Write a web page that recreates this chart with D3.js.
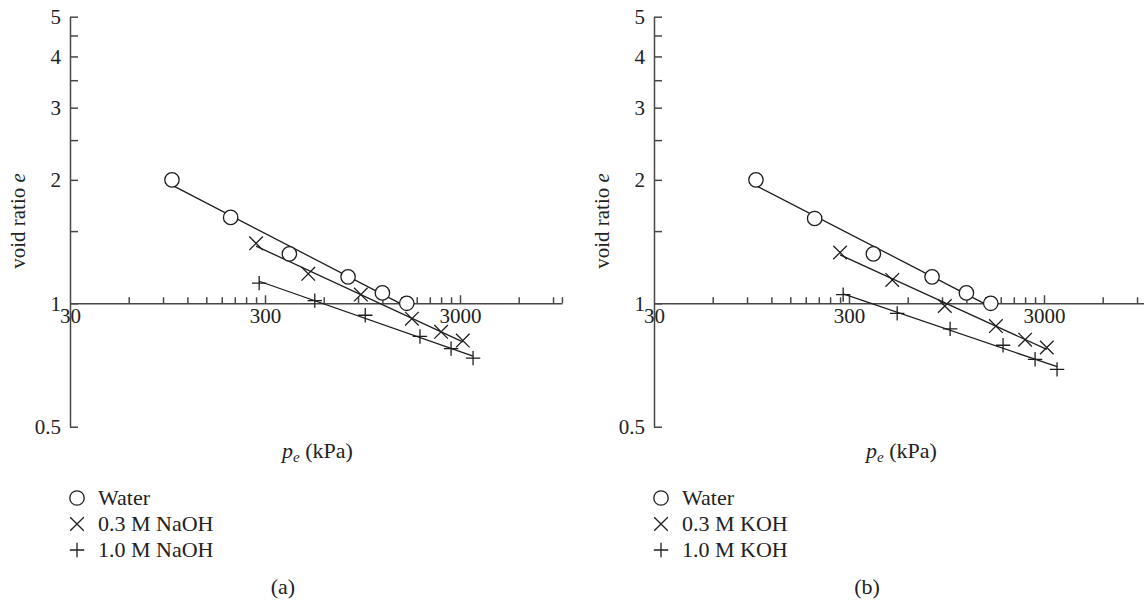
<!DOCTYPE html>
<html>
<head>
<meta charset="utf-8">
<script src="https://cdn.jsdelivr.net/npm/d3@7"></script>
<style>
  body { margin: 0; background: #fff; }
  svg text { font-family: "Liberation Serif", "DejaVu Serif", serif; fill: #222; }
</style>
</head>
<body>
<div id="chart"></div>
<script>
// values (pressure kPa, void ratio)
const waterP = [100, 200, 400, 800, 1200, 1600];
const waterE_a = [2.0, 1.62, 1.32, 1.16, 1.06, 1.0];
const waterE_b = [2.0, 1.61, 1.32, 1.16, 1.06, 1.0];

const naoh03P = [270, 500, 930, 1700, 2400, 3100];
const naoh03E = [1.40, 1.18, 1.05, 0.917, 0.852, 0.811];
const naoh10P = [280, 540, 980, 1870, 2700, 3500];
const naoh10E = [1.12, 1.015, 0.935, 0.83, 0.775, 0.735];

const koh03P = [270, 500, 930, 1700, 2400, 3100];
const koh03E = [1.33, 1.14, 0.985, 0.88, 0.815, 0.78];
const koh10P = [280, 530, 990, 1850, 2700, 3500];
const koh10E = [1.05, 0.945, 0.866, 0.79, 0.73, 0.69];

const legendA = ["Water", "0.3 M NaOH", "1.0 M NaOH"];
const legendB = ["Water", "0.3 M KOH", "1.0 M KOH"];
const panelLabels = ["(a)", "(b)"];

const xDomain = [30, 10000];
const xMajorTicks = [30, 300, 3000];
const xMinorTicks = [60, 90, 120, 150, 180, 210, 240, 270,
                     600, 900, 1200, 1500, 1800, 2100, 2400, 2700,
                     6000, 9000, 10000];
const yDomain = [0.5, 5];
const yTicks = [0.5, 1, 1.5, 2, 2.5, 3, 3.5, 4, 4.5, 5];
const yTickLabels = [0.5, 1, 2, 3, 4, 5];

const W = 1144, H = 603;
const ink = "#1e1e1e", axisInk = "#474747";

const svg = d3.select("#chart").append("svg").attr("width", W).attr("height", H);

const x = d3.scaleLog().domain(xDomain).range([0, 195 * Math.log10(xDomain[1] / xDomain[0])]);
const y = d3.scaleLog().domain(yDomain).range([426.7, 16.7]);

function pairs(p, e) { return p.map((v, i) => ({ p: v, e: e[i] })); }

// least squares in log-log space
function fit(pts) {
  const lx = pts.map(d => Math.log10(d.p)), ly = pts.map(d => Math.log10(d.e));
  const mx = d3.mean(lx), my = d3.mean(ly);
  const b = d3.sum(lx, (v, i) => (v - mx) * (ly[i] - my)) / d3.sum(lx, v => (v - mx) ** 2);
  const a = my - b * mx;
  const ends = d3.extent(pts, d => d.p);
  return ends.map(p => ({ p: p, e: Math.pow(10, a + b * Math.log10(p)) }));
}

function marker(g, type, cx, cy) {
  if (type === "circle") {
    g.append("circle").attr("cx", cx).attr("cy", cy).attr("r", 7.2)
      .attr("fill", "#fff").attr("stroke", ink).attr("stroke-width", 1.3);
  } else if (type === "cross") {
    const s = 6.8;
    g.append("path").attr("d", `M${cx - s},${cy - s}L${cx + s},${cy + s}M${cx - s},${cy + s}L${cx + s},${cy - s}`)
      .attr("stroke", ink).attr("stroke-width", 1.3).attr("fill", "none");
  } else {
    const s = 7.2;
    g.append("path").attr("d", `M${cx - s},${cy}L${cx + s},${cy}M${cx},${cy - s}L${cx},${cy + s}`)
      .attr("stroke", ink).attr("stroke-width", 1.3).attr("fill", "none");
  }
}

function drawPanel(left, series, legend, label) {
  const g = svg.append("g").attr("transform", `translate(${left},0)`);
  const y1 = y(1);

  // y axis: ticks pointing right, labels on left
  const yAxis = g.append("g").call(d3.axisRight(y).tickValues(yTicks).tickSize(8).tickFormat("").tickSizeOuter(0));
  yAxis.selectAll("path, line").attr("stroke", axisInk).attr("stroke-width", 1.5);
  const yLab = g.append("g").call(d3.axisLeft(y).tickValues(yTickLabels).tickSize(0).tickPadding(9).tickFormat(d3.format("")));
  yLab.select(".domain").remove();
  yLab.selectAll("text").attr("font-size", 21).attr("font-family", "Liberation Serif").attr("fill", ink);

  // x axis along e = 1, ticks pointing up
  const xa = g.append("g").attr("transform", `translate(0,${y1})`);
  const xMinor = xa.append("g").call(d3.axisTop(x).tickValues(xMinorTicks).tickSize(6).tickFormat("").tickSizeOuter(0));
  xMinor.selectAll("path, line").attr("stroke", axisInk).attr("stroke-width", 1.5);
  const xMajor = xa.append("g").call(d3.axisTop(x).tickValues(xMajorTicks.slice(1)).tickSize(8).tickFormat(""));
  xMajor.select(".domain").remove();
  xMajor.selectAll("line").attr("stroke", axisInk).attr("stroke-width", 1.5);
  const xLab = xa.append("g").call(d3.axisBottom(x).tickValues(xMajorTicks).tickSize(0).tickPadding(5).tickFormat(d3.format("")));
  xLab.select(".domain").remove();
  xLab.selectAll("text").attr("font-size", 21).attr("font-family", "Liberation Serif").attr("fill", ink);

  // axis titles
  g.append("text").attr("transform", `translate(-45,221) rotate(-90)`)
    .attr("text-anchor", "middle").attr("font-size", 21)
    .call(t => { t.append("tspan").text("void ratio "); t.append("tspan").attr("font-style", "italic").text("e"); });
  const xt = g.append("text").attr("x", 212).attr("y", 458).attr("font-size", 22);
  xt.append("tspan").attr("font-style", "italic").text("p");
  xt.append("tspan").attr("font-style", "italic").attr("font-size", 15).attr("dy", 4).text("e");
  xt.append("tspan").attr("dy", -4).text(" (kPa)");

  // fit lines then markers
  const line = d3.line().x(d => x(d.p)).y(d => y(d.e));
  series.forEach(s => {
    g.append("path").attr("d", line(fit(s.pts))).attr("stroke", ink).attr("stroke-width", 1.3).attr("fill", "none");
  });
  series.forEach(s => s.pts.forEach(d => marker(g, s.type, x(d.p), y(d.e))));

  // legend
  series.forEach((s, i) => {
    const cy = 498 + i * 26;
    marker(g, s.type, 7, cy);
    g.append("text").attr("x", 28).attr("y", cy + 7).attr("font-size", 22).text(legend[i]);
  });

  g.append("text").attr("x", 213).attr("y", 594).attr("text-anchor", "middle").attr("font-size", 22).text(label);
}

drawPanel(70, [
  { type: "circle", pts: pairs(waterP, waterE_a) },
  { type: "cross", pts: pairs(naoh03P, naoh03E) },
  { type: "plus", pts: pairs(naoh10P, naoh10E) }
], legendA, panelLabels[0]);

drawPanel(654, [
  { type: "circle", pts: pairs(waterP, waterE_b) },
  { type: "cross", pts: pairs(koh03P, koh03E) },
  { type: "plus", pts: pairs(koh10P, koh10E) }
], legendB, panelLabels[1]);
</script>
</body>
</html>
